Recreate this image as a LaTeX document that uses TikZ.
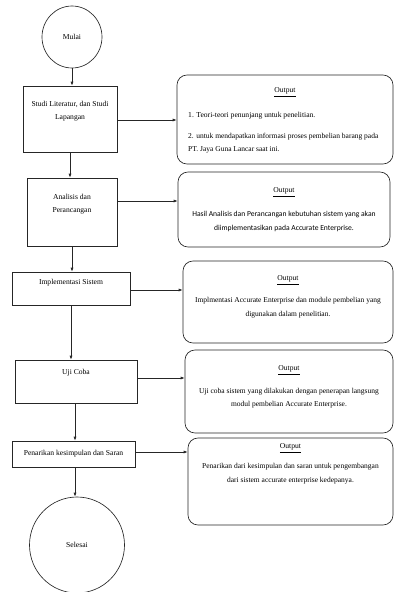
\documentclass[tikz,border=0pt]{standalone}
\usepackage{fontspec}
\setmainfont{Liberation Serif}
\newfontfamily\calfont{Carlito}
\usetikzlibrary{arrows.meta,shapes.geometric}
\tikzset{
  lw/.style={line width=0.65pt, draw=black!85},
  proc/.style={lw, inner sep=0pt, align=center, font=\fontsize{7.6}{13}\selectfont},
  term/.style={lw, ellipse, inner sep=0pt, font=\fontsize{7.6}{8}\selectfont},
  outbox/.style={lw, rounded corners=10pt, inner sep=0pt},
  otitle/.style={font=\fontsize{7.6}{8}\selectfont, inner sep=0pt},
  otext/.style={font=\fontsize{7.5}{13.5}\selectfont, inner sep=0pt, align=center},
  arr/.style={lw, -{Latex[length=4pt,width=3pt]}}
}
\begin{document}
\begin{tikzpicture}[x=1pt,y=-1pt]
\useasboundingbox (0,0) rectangle (394,592);
\fill[white] (0,0) rectangle (394,592);
% left column
\node[term, minimum width=60pt, minimum height=62pt] (mulai) at (72,37) {Mulai};
\node[proc, minimum width=94pt, minimum height=66pt] (b1) at (70,119) {Studi Literatur, dan Studi\\Lapangan\\[5pt]};
\node[proc, minimum width=90pt, minimum height=68pt] (b2) at (72,212) {Analisis dan\\Perancangan\\[4pt]};
\node[proc, minimum width=118pt, minimum height=33pt] (b3) at (71,288.5) {Implementasi Sistem\\[1pt]};
\node[proc, minimum width=122pt, minimum height=43pt] (b4) at (76,381.5) {Uji Coba\\[6pt]};
\node[proc, minimum width=123pt, minimum height=26pt] (b5) at (73.5,454) {Penarikan kesimpulan dan Saran};
\node[term, minimum width=95pt, minimum height=96pt] (sel) at (77,545) {Selesai};
% output boxes
\node[outbox, minimum width=216pt, minimum height=89pt] (o1) at (285,119.5) {};
\node[outbox, minimum width=212pt, minimum height=75pt] (o2) at (284,209.5) {};
\node[outbox, minimum width=210pt, minimum height=82pt] (o3) at (288,302) {};
\node[outbox, minimum width=208pt, minimum height=83pt] (o4) at (289,391.5) {};
\node[outbox, minimum width=205pt, minimum height=87pt] (o5) at (290.5,481.5) {};
% output texts
\node[otitle] (t1) at (285,92) {\underline{Output}};
\node[otitle, anchor=west] (t1a) at (188,116) {1. Teori-teori penunjang untuk penelitian.};
\node[otext, anchor=north west, align=left] (t1b) at (188,133) {2. untuk mendapatkan informasi proses pembelian barang pada\\PT. Jaya Guna Lancar saat ini.};
\node[otitle] (t2) at (284,192) {\underline{Output}};
\node[otext, font=\calfont\fontsize{7.6}{13.5}\selectfont] (t2a) at (284,221.5) {Hasil Analisis dan Perancangan kebutuhan sistem yang akan\\diimplementasikan pada Accurate Enterprise.};
\node[otitle] (t3) at (288,280) {\underline{Output}};
\node[otext] (t3a) at (288,307.5) {Implmentasi Accurate Enterprise dan module pembelian yang\\digunakan dalam penelitian.};
\node[otitle] (t4) at (289,370) {\underline{Output}};
\node[otext] (t4a) at (289,398) {Uji coba sistem yang dilakukan dengan penerapan langsung\\modul pembelian Accurate Enterprise.};
\node[otitle] (t5) at (290.5,448) {\underline{Output}};
\node[otext] (t5a) at (290.5,473.5) {Penarikan dari kesimpulan dan saran untuk pengembangan\\dari sistem accurate enterprise kedepanya.};
% vertical arrows
\draw[arr] (mulai.south) -- (mulai.south |- b1.north);
\draw[arr] (b1.south) -- (b1.south |- b2.north);
\draw[arr] (b2.south) -- (b2.south |- b3.north);
\draw[arr] (b3.south) -- (b3.south |- b4.north);
\draw[arr] (b4.south -| 75,0) -- (b5.north -| 75,0);
\draw[arr] (b5.south -| 75,0) -- (sel.north -| 75,0);
% horizontal arrows
\draw[arr] (b1.east |- 0,120) -- (o1.west |- 0,120);
\draw[arr] (b2.east |- 0,201) -- (o2.west |- 0,201);
\draw[arr] (b3.east |- 0,290) -- (o3.west |- 0,290);
\draw[arr] (b4.east |- 0,378) -- (o4.west |- 0,378);
\draw[arr] (b5.east |- 0,452) -- (o5.west |- 0,452);
\end{tikzpicture}
\end{document}
